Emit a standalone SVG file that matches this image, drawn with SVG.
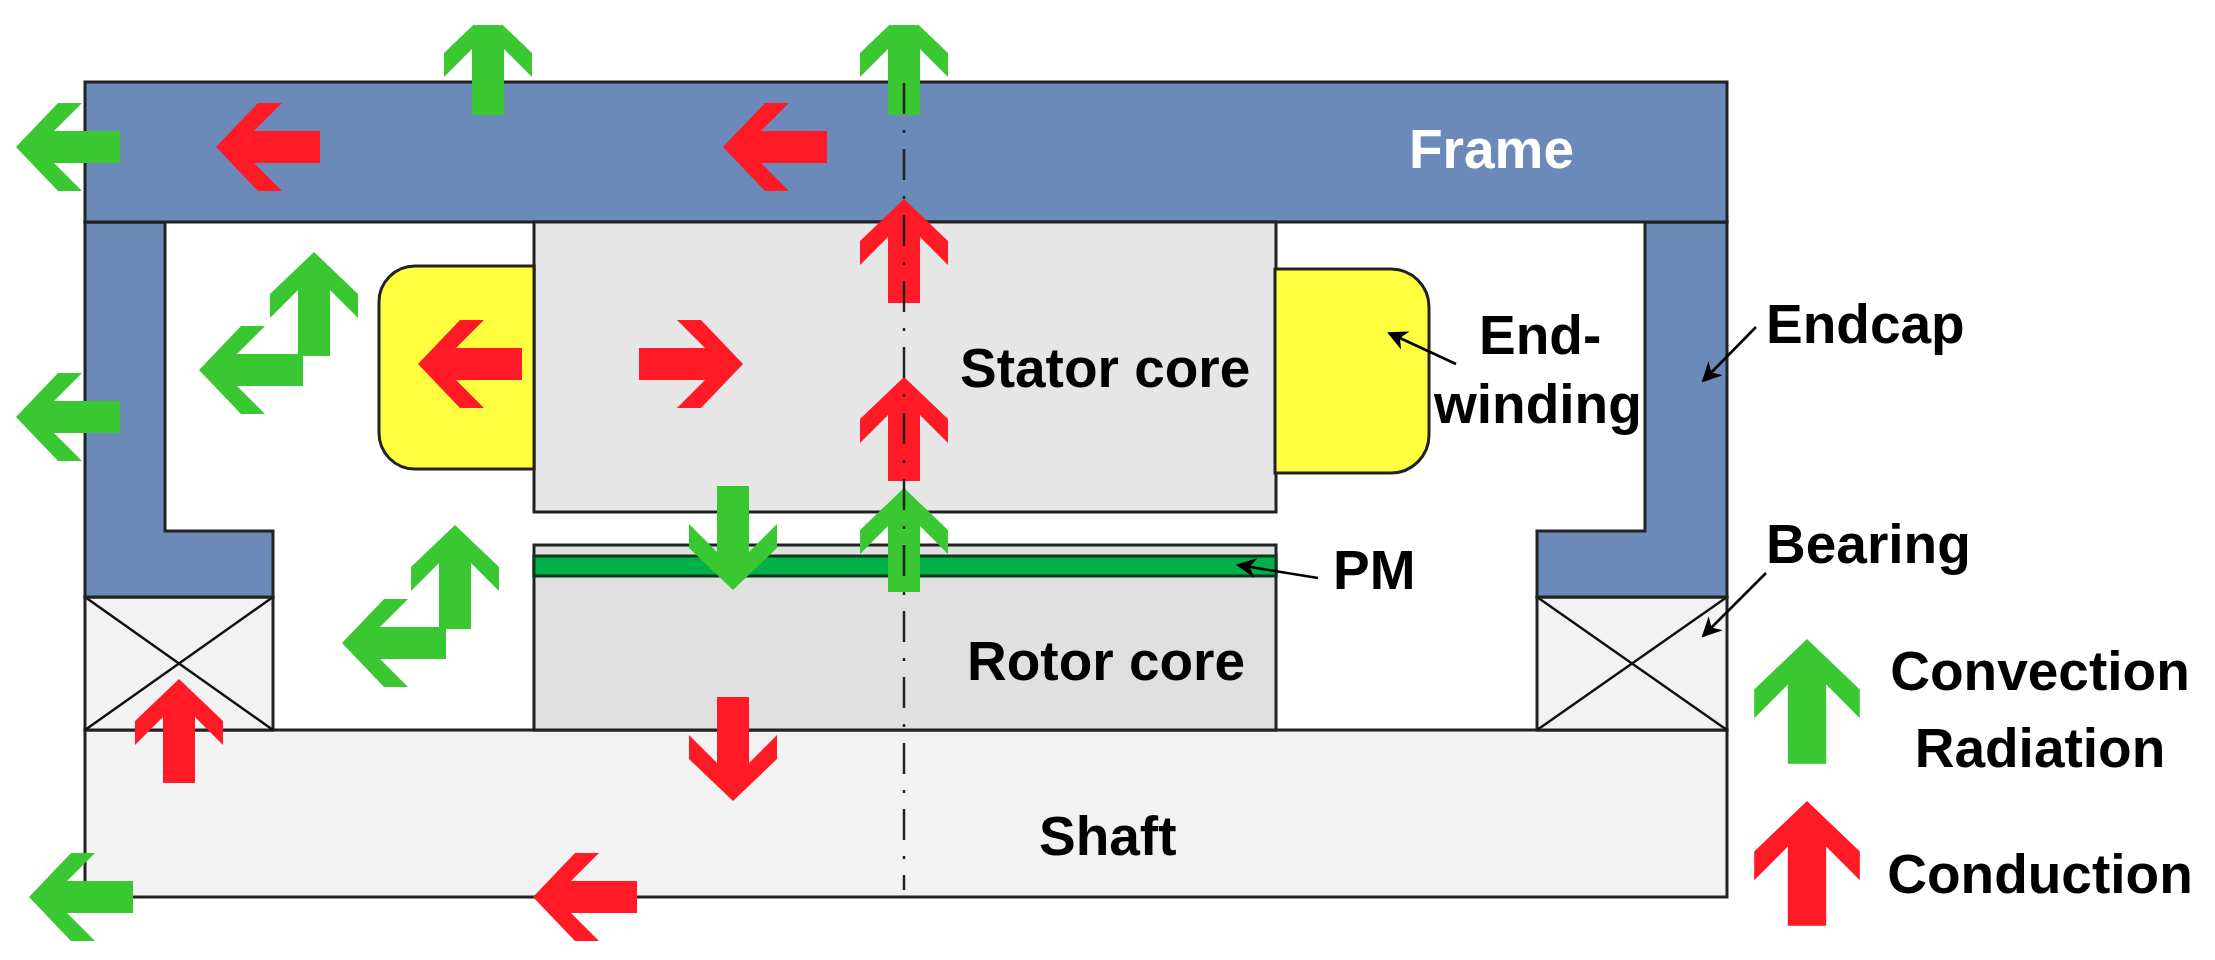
<svg xmlns="http://www.w3.org/2000/svg" xmlns:xlink="http://www.w3.org/1999/xlink" width="2215" height="960" viewBox="0 0 2215 960">
<style>
.blue{fill:#6b89b9;stroke:#222;stroke-width:3}
.edge{stroke:#222;stroke-width:3}
.lbl{font-family:"Liberation Sans",Arial,sans-serif;font-weight:bold;font-size:55px;fill:#000}
.g{fill:#3ac832}
.r{fill:#ff1a25}
.ptr{stroke:#000;stroke-width:2.5;fill:none;marker-end:url(#ah)}
</style>
<defs>
<path id="arr" d="M0,0 L44,42 L44,66 L16,38 L16,104 L-16,104 L-16,38 L-44,66 L-44,42 Z"/>
<marker id="ah" viewBox="0 0 10 10" refX="9" refY="5" markerWidth="8" markerHeight="8" orient="auto" markerUnits="strokeWidth">
<path d="M0,0 L10,5 L0,10 L3,5 Z" fill="#000"/>
</marker>
<clipPath id="topclip"><rect x="0" y="25" width="2215" height="935"/></clipPath>
</defs>
<rect width="2215" height="960" fill="#fff"/>

<g id="shaft"><rect x="85" y="730" width="1642" height="167" fill="#f2f2f2" class="edge"/></g>
<g id="bearing-left">
<rect x="85" y="597" width="188" height="133" fill="#f2f2f2" class="edge"/>
<path d="M85,597 L273,730 M273,597 L85,730" stroke="#111" stroke-width="2.5"/>
</g>
<g id="bearing-right">
<rect x="1537" y="597" width="190" height="133" fill="#f2f2f2" class="edge"/>
<path d="M1537,597 L1727,730 M1727,597 L1537,730" stroke="#111" stroke-width="2.5"/>
</g>
<g id="endcap-left"><path class="blue" d="M85,222 H165 V531 H273 V597 H85 Z"/></g>
<g id="endcap-right"><path class="blue" d="M1645,222 H1727 V597 H1537 V531 H1645 Z"/></g>
<g id="frame"><rect class="blue" x="85" y="82" width="1642" height="140"/>
<text x="1409" y="168" class="lbl" style="fill:#fff">Frame</text></g>
<g id="stator"><rect x="534" y="222" width="742" height="290" fill="#e6e6e6" class="edge"/>
<text x="960" y="387" class="lbl">Stator core</text></g>
<g id="rotor"><rect x="534" y="545" width="742" height="185" fill="#e0e0e0" class="edge"/>
<text x="967" y="680" class="lbl">Rotor core</text></g>
<g id="pm"><rect x="534" y="556" width="742" height="20" fill="#00b04a" stroke="#0a3a1a" stroke-width="3"/></g>
<g id="endwinding-left"><path d="M534,266 H415 A36,36 0 0 0 379,302 V433 A36,36 0 0 0 415,469 H534 Z" fill="#ffff40" class="edge"/></g>
<g id="endwinding-right"><path d="M1275,269 H1391 A38,38 0 0 1 1429,307 V435 A38,38 0 0 1 1391,473 H1275 Z" fill="#ffff40" class="edge"/></g>

<g id="labels">
<text x="1479" y="354" class="lbl">End-</text>
<text x="1434" y="423" class="lbl">winding</text>
<text x="1766" y="343" class="lbl">Endcap</text>
<text x="1333" y="589" class="lbl">PM</text>
<text x="1766" y="563" class="lbl">Bearing</text>
<text x="1039" y="855" class="lbl">Shaft</text>
</g>

<g id="connectors">
<g clip-path="url(#topclip)">
<use xlink:href="#arr" class="g" transform="translate(488,11)"/>
<use xlink:href="#arr" class="g" transform="translate(904,11)"/>
</g>
<use xlink:href="#arr" class="g" transform="translate(16,147) rotate(-90)"/>
<use xlink:href="#arr" class="g" transform="translate(16,417) rotate(-90)"/>
<use xlink:href="#arr" class="g" transform="translate(314,252)"/>
<use xlink:href="#arr" class="g" transform="translate(199,370) rotate(-90)"/>
<use xlink:href="#arr" class="g" transform="translate(455,525)"/>
<use xlink:href="#arr" class="g" transform="translate(342,643) rotate(-90)"/>
<use xlink:href="#arr" class="g" transform="translate(733,590) rotate(180)"/>
<use xlink:href="#arr" class="g" transform="translate(904,488)"/>
<use xlink:href="#arr" class="g" transform="translate(29,897) rotate(-90)"/>

<use xlink:href="#arr" class="r" transform="translate(216,147) rotate(-90)"/>
<use xlink:href="#arr" class="r" transform="translate(723,147) rotate(-90)"/>
<use xlink:href="#arr" class="r" transform="translate(904,199)"/>
<use xlink:href="#arr" class="r" transform="translate(904,377)"/>
<use xlink:href="#arr" class="r" transform="translate(418,364) rotate(-90)"/>
<use xlink:href="#arr" class="r" transform="translate(743,364) rotate(90)"/>
<use xlink:href="#arr" class="r" transform="translate(179,679)"/>
<use xlink:href="#arr" class="r" transform="translate(733,801) rotate(180)"/>
<use xlink:href="#arr" class="r" transform="translate(533,897) rotate(-90)"/>

<line x1="904" y1="83" x2="904" y2="890" stroke="#222" stroke-width="2.5" stroke-dasharray="31 16 3 16"/>

<path class="ptr" d="M1456,364 L1389,333"/>
<path class="ptr" d="M1756,327 L1703,381"/>
<path class="ptr" d="M1318,578 L1238,565"/>
<path class="ptr" d="M1766,573 L1703,636"/>
</g>

<g id="legend">
<use xlink:href="#arr" class="g" transform="translate(1807,639) scale(1.2)"/>
<use xlink:href="#arr" class="r" transform="translate(1807,801) scale(1.2)"/>
<text x="2040" y="690" class="lbl" text-anchor="middle">Convection</text>
<text x="2040" y="767" class="lbl" text-anchor="middle">Radiation</text>
<text x="2040" y="893" class="lbl" text-anchor="middle">Conduction</text>
</g>
</svg>
